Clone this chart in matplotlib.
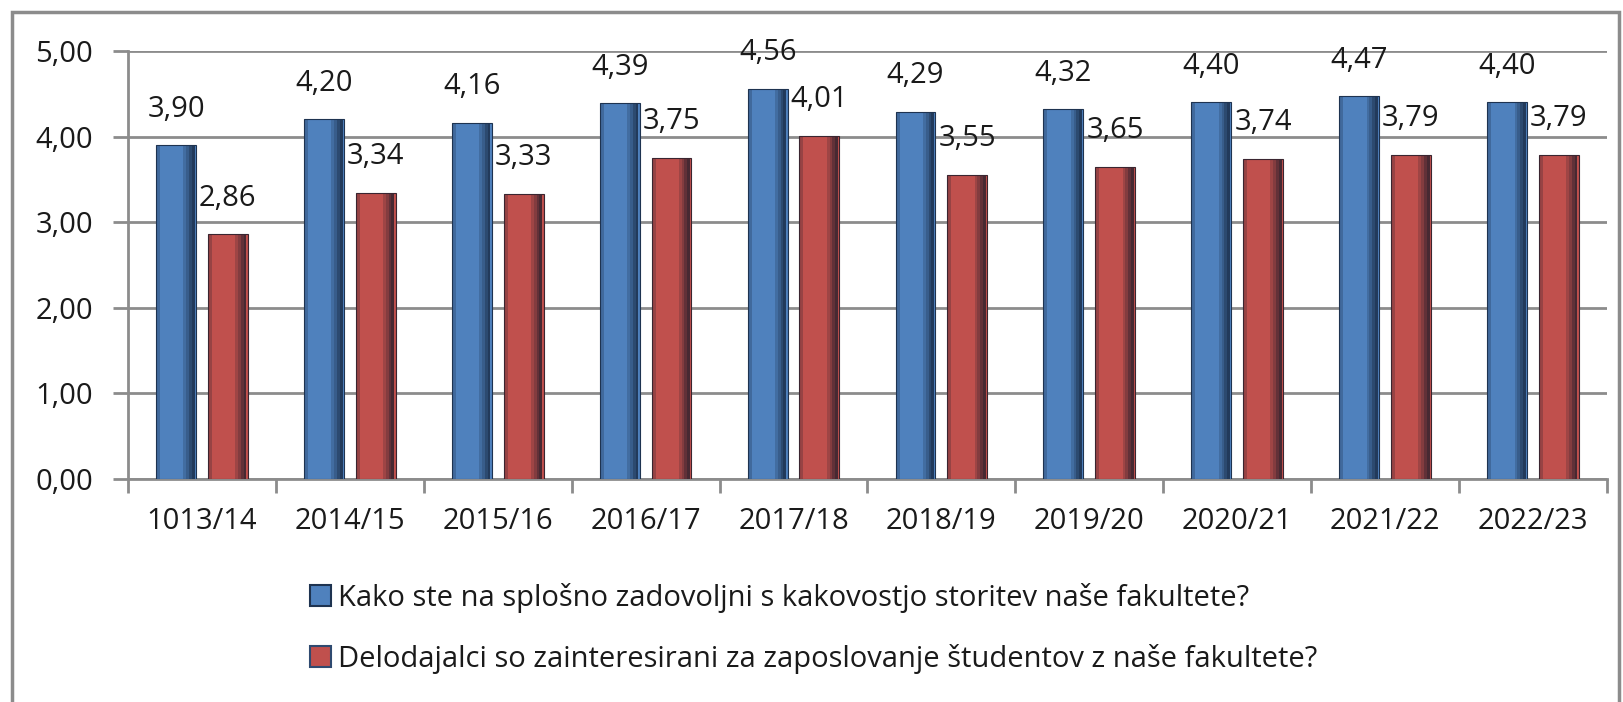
import matplotlib
matplotlib.use("Agg")
import matplotlib.pyplot as plt
import numpy as np
from matplotlib.patches import Rectangle, Patch

# school years and average scores
years = ["1013/14", "2014/15", "2015/16", "2016/17", "2017/18",
         "2018/19", "2019/20", "2020/21", "2021/22", "2022/23"]
zadovoljstvo = [3.90, 4.20, 4.16, 4.39, 4.56, 4.29, 4.32, 4.40, 4.47, 4.40]
delodajalci = [2.86, 3.34, 3.33, 3.75, 4.01, 3.55, 3.65, 3.74, 3.79, 3.79]
series_names = ["Kako ste na splošno zadovoljni s kakovostjo storitev naše fakultete?",
                "Delodajalci so zainteresirani za zaposlovanje študentov z naše fakultete?"]

plt.rcParams['font.family'] = ['Open Sans', 'DejaVu Sans']

BLUE = "#4F81BD"
RED = "#C0504D"
GRID = "#8C8C8C"
TXT = "#1A1A1A"
FS = 21

fig = plt.figure(figsize=(16.24, 7.02), dpi=100)
ax = fig.add_axes([0.0788, 0.3177, 0.9107, 0.6097])

x = np.arange(len(years))
w = 0.27
off = 0.175

def bevel_bars(pos, vals, col, dark):
    # main body plus darker strips on the right side to fake the excel 3d look
    ax.bar(pos, vals, w, color=col, edgecolor=dark, linewidth=0.8, zorder=3)
    for k, a in enumerate([0.25, 0.45, 0.7, 0.9]):
        ax.bar(pos + w * (0.22 + 0.07 * k), vals, w * 0.07, color=dark, alpha=a,
               linewidth=0, zorder=4)
    ax.bar(pos - w * 0.45, vals, w * 0.1, color=dark, alpha=0.3, linewidth=0, zorder=4)

bevel_bars(x - off, zadovoljstvo, BLUE, "#1E3350")
bevel_bars(x + off, delodajalci, RED, "#3A2530")

for xi, v in zip(x - off, zadovoljstvo):
    ax.annotate(f"{v:.2f}".replace(".", ","), (xi, v), xytext=(0, 26), textcoords="offset points",
                ha="center", va="center", fontsize=FS, color=TXT, zorder=6)
for xi, v in zip(x + off, delodajalci):
    ax.annotate(f"{v:.2f}".replace(".", ","), (xi, v), xytext=(0, 26), textcoords="offset points",
                ha="center", va="center", fontsize=FS, color=TXT, zorder=6)

ax.set_xlim(-0.5, len(years) - 0.5)
ax.set_ylim(0, 5)
ax.set_yticks(np.arange(0, 5.01, 1))
ax.set_yticklabels([f"{t:.2f}".replace(".", ",") for t in np.arange(0, 5.01, 1)])
ax.yaxis.grid(True, color=GRID, linewidth=2, zorder=0)
ax.set_axisbelow(True)

ax.set_xticks(x)
ax.set_xticklabels(years)
ax.set_xticks(np.arange(-0.5, len(years), 1), minor=True)
ax.tick_params(axis="x", which="major", length=0, pad=20, labelsize=FS, colors=TXT)
ax.tick_params(axis="x", which="minor", length=10, width=2, color=GRID)
ax.tick_params(axis="y", length=11, width=2, color=GRID, pad=14, labelsize=FS, labelcolor=TXT)

for s in ["top", "right"]:
    ax.spines[s].set_visible(False)
ax.spines["left"].set_color(GRID)
ax.spines["left"].set_linewidth(2)
ax.spines["bottom"].set_color(GRID)
ax.spines["bottom"].set_linewidth(2)

handles = [Patch(facecolor=BLUE, edgecolor="#1E3350", linewidth=1.5),
           Patch(facecolor=RED, edgecolor="#2F4A70", linewidth=1.5)]
fig.legend(handles, series_names, loc="center left", bbox_to_anchor=(0.182, 0.105),
           frameon=False, fontsize=FS, handlelength=0.72, handleheight=0.72,
           handletextpad=0.25, labelspacing=1.05, borderpad=0, labelcolor=TXT)

fig.patches.append(Rectangle((0.0074, -0.02), 0.9896, 1.003, transform=fig.transFigure,
                             fill=False, edgecolor=GRID, linewidth=2.5))

fig.savefig("out.png", dpi=100)
